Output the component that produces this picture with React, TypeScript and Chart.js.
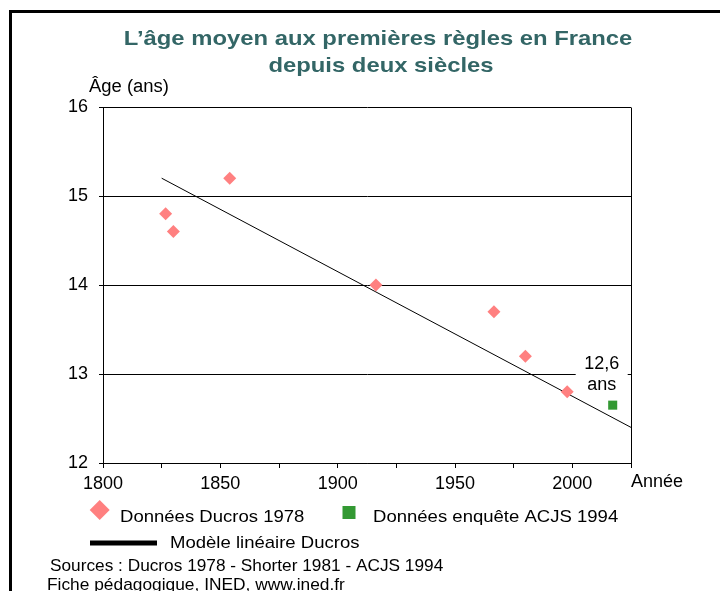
import { useEffect, useRef } from "react";
import { Chart, registerables } from "chart.js";

Chart.register(...registerables);

// ---- Data ----
const ducrosYears = [1826.7, 1830, 1854, 1916.3, 1966.6, 1980, 1997.8];
const ducrosAges = [14.8, 14.6, 15.2, 14.0, 13.7, 13.2, 12.8];
const acjsYears = [2017.2];
const acjsAges = [12.65];
const modelYears = [1825, 2025];
const modelAges = [15.2, 12.4];
const xLabelYears = [1800, 1850, 1900, 1950, 2000];
const titleLines = ["L’âge moyen aux premières règles en France", "depuis deux siècles"];
const legendLabels = ["Données Ducros 1978", "Données enquête ACJS 1994", "Modèle linéaire Ducros"];
const sourceLines = ["Sources : Ducros 1978 - Shorter 1981 - ACJS 1994", "Fiche pédagogique, INED, www.ined.fr"];
const annotationLines = ["12,6", "ans"];
const yAxisTitle = "Âge (ans)";
const xAxisTitle = "Année";

const FAMILY = '"Liberation Sans", Arial, Helvetica, sans-serif';
const TITLE_COLOR = "#336666";
const PINK = "#FF8080";
const GREEN = "#339933";

function drawText(
  ctx: CanvasRenderingContext2D,
  s: string,
  x: number,
  y: number,
  size: number,
  bold: boolean,
  color: string,
  align: CanvasTextAlign,
  sx: number
) {
  ctx.save();
  ctx.font = `${bold ? "bold " : ""}${size}px ${FAMILY}`;
  ctx.fillStyle = color;
  ctx.textAlign = align;
  ctx.textBaseline = "alphabetic";
  ctx.translate(x, y);
  ctx.scale(sx, 1);
  ctx.fillText(s, 0, 0);
  ctx.restore();
}

const decorPlugin = {
  id: "decor",
  beforeDraw(chart: any) {
    const ctx = chart.ctx as CanvasRenderingContext2D;
    ctx.save();
    ctx.fillStyle = "#fff";
    ctx.fillRect(0, 0, chart.width, chart.height);
    ctx.restore();
  },
  afterDraw(chart: any) {
    const ctx = chart.ctx as CanvasRenderingContext2D;
    const a = chart.chartArea;
    const xs = chart.scales.x;

    // outer frame (left & top)
    ctx.save();
    ctx.fillStyle = "#000";
    ctx.fillRect(9, 10, 3, chart.height - 10);
    ctx.fillRect(9, 10, chart.width - 9, 3);

    // right border of plot area
    const rx = Math.floor(xs.getPixelForValue(2025)) + 0.5;
    ctx.strokeStyle = "#000";
    ctx.lineWidth = 1;
    ctx.beginPath();
    ctx.moveTo(rx, Math.floor(a.top) + 0.5);
    ctx.lineTo(rx, Math.floor(a.bottom) + 0.5);
    ctx.stroke();
    ctx.restore();

    // title
    drawText(ctx, titleLines[0], 378, 44.5, 21, true, TITLE_COLOR, "center", 1.135);
    drawText(ctx, titleLines[1], 381, 71.5, 21, true, TITLE_COLOR, "center", 1.135);

    // axis titles
    drawText(ctx, yAxisTitle, 89, 92, 18, false, "#000", "left", 1.025);
    drawText(ctx, xAxisTitle, 631, 487, 18, false, "#000", "left", 1.0);

    // annotation "12,6 ans"
    const p = chart.getDatasetMeta(2).data[0];
    if (p) {
      ctx.save();
      ctx.fillStyle = "#fff";
      ctx.fillRect(p.x - 37, p.y - 56, 52, 45);
      ctx.restore();
      drawText(ctx, annotationLines[0], p.x - 11, p.y - 36, 18, false, "#000", "center", 1);
      drawText(ctx, annotationLines[1], p.x - 11, p.y - 15.5, 18, false, "#000", "center", 1);
    }

    // legend
    ctx.save();
    ctx.fillStyle = PINK;
    ctx.beginPath();
    const dx = 99.7, dy = 510, r = 10;
    ctx.moveTo(dx - r, dy);
    ctx.lineTo(dx, dy - r);
    ctx.lineTo(dx + r, dy);
    ctx.lineTo(dx, dy + r);
    ctx.closePath();
    ctx.fill();
    ctx.fillStyle = GREEN;
    ctx.fillRect(342.5, 506, 13, 13);
    ctx.strokeStyle = "#000";
    ctx.lineWidth = 5;
    ctx.beginPath();
    ctx.moveTo(90, 543);
    ctx.lineTo(157, 543);
    ctx.stroke();
    ctx.restore();
    drawText(ctx, legendLabels[0], 120, 521.5, 17, false, "#000", "left", 1.09);
    drawText(ctx, legendLabels[1], 373, 521.5, 17, false, "#000", "left", 1.09);
    drawText(ctx, legendLabels[2], 170, 547.5, 17, false, "#000", "left", 1.09);

    // sources
    drawText(ctx, sourceLines[0], 50, 571, 17, false, "#000", "left", 1.015);
    drawText(ctx, sourceLines[1], 47, 590, 17, false, "#000", "left", 1.02);
  },
};

export default function App() {
  const ref = useRef<HTMLCanvasElement | null>(null);

  useEffect(() => {
    document.body.style.margin = "0";
    const canvas = ref.current;
    if (!canvas) return;
    const chart = new Chart(canvas, {
      type: "scatter",
      data: {
        datasets: [
          {
            label: legendLabels[2],
            type: "line",
            data: modelYears.map((x, i) => ({ x, y: modelAges[i] })),
            borderColor: "#000",
            borderWidth: 1,
            pointRadius: 0,
            showLine: true,
            fill: false,
            tension: 0,
            order: 3,
          } as any,
          {
            label: legendLabels[0],
            data: ducrosYears.map((x, i) => ({ x, y: ducrosAges[i] })),
            pointStyle: "rectRot",
            pointRadius: 6.5,
            backgroundColor: PINK,
            borderWidth: 0,
            order: 2,
          },
          {
            label: legendLabels[1],
            data: acjsYears.map((x, i) => ({ x, y: acjsAges[i] })),
            pointStyle: "rect",
            pointRadius: 6.4,
            backgroundColor: GREEN,
            borderWidth: 0,
            order: 1,
          },
        ],
      },
      options: {
        responsive: false,
        animation: false,
        devicePixelRatio: 1,
        events: [],
        layout: { padding: { left: 0, right: 89, top: 107, bottom: 98 } },
        plugins: {
          legend: { display: false },
          title: { display: false },
          tooltip: { enabled: false },
        },
        scales: {
          x: {
            type: "linear",
            min: 1800,
            max: 2025,
            ticks: {
              stepSize: 25,
              autoSkip: false,
              maxRotation: 0,
              padding: 5,
              color: "#000",
              font: { size: 18, family: FAMILY },
              callback: (v: any) => (xLabelYears.includes(Number(v)) ? String(v) : ""),
            },
            grid: { drawOnChartArea: false, drawTicks: true, tickLength: 5, color: "#000" },
            border: { display: true, color: "#000", width: 1 },
            afterFit: (s: any) => {
              s.height = 30;
            },
          },
          y: {
            type: "linear",
            min: 12,
            max: 16,
            ticks: {
              stepSize: 1,
              padding: 11,
              color: "#000",
              font: { size: 18, family: FAMILY },
            },
            grid: { color: "#000", lineWidth: 1, tickLength: 4, drawTicks: true },
            border: { display: true, color: "#000", width: 1 },
            afterFit: (s: any) => {
              s.width = 103;
            },
          },
        },
      },
      plugins: [decorPlugin],
    });
    return () => chart.destroy();
  }, []);

  return (
    <div style={{ position: "absolute", left: 0, top: 0, width: 720, height: 591 }}>
      <canvas ref={ref} width={720} height={591} style={{ width: 720, height: 591, display: "block" }} />
    </div>
  );
}
